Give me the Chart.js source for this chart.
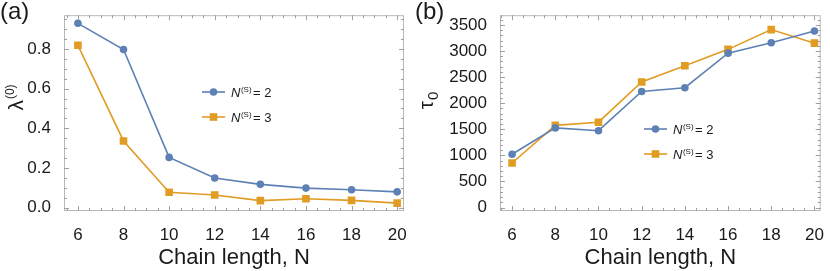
<!DOCTYPE html>
<html>
<head>
<meta charset="utf-8">
<script src="https://cdn.jsdelivr.net/npm/chart.js@4/dist/chart.umd.min.js"></script>
<style>
  html, body { margin: 0; padding: 0; background: #fff; }
  #wrap { position: relative; width: 830px; height: 271px; }
  canvas { position: absolute; top: 0; }
  #chartA { left: 0; }
  #chartB { left: 415px; }
</style>
</head>
<body>
<div id="wrap">
  <canvas id="chartA" width="415" height="271"></canvas>
  <canvas id="chartB" width="415" height="271"></canvas>
</div>
<script>
// 数据
const chainN = [6, 8, 10, 12, 14, 16, 18, 20];
const lambdaS2 = [0.930, 0.798, 0.253, 0.149, 0.117, 0.098, 0.090, 0.079];
const lambdaS3 = [0.819, 0.336, 0.077, 0.063, 0.035, 0.044, 0.036, 0.022];
const tauS2 = [1021, 1526, 1472, 2224, 2296, 2959, 3157, 3384];
const tauS3 = [853, 1575, 1635, 2405, 2717, 3031, 3410, 3150];
const xTicks = [6, 8, 10, 12, 14, 16, 18, 20];
const lambdaTicks = [0, 0.2, 0.4, 0.6, 0.8];
const tauTicks = [0, 500, 1000, 1500, 2000, 2500, 3000, 3500];
const seriesNames = ['2', '3'];

const BLUE = '#5e81b5';
const ORANGE = '#e19c24';
const FONT = "'Liberation Sans', Arial, sans-serif";

function toPoints(ys) {
    return chainN.map((n, i) => ({ x: n, y: ys[i] }));
}

// 边框和内向刻度
const framePlugin = {
    id: 'frame',
    afterDatasetsDraw(chart, args, opts) {
        const { ctx, chartArea: a, scales } = chart;
        ctx.save();
        ctx.strokeStyle = '#b8b8b8';
        ctx.lineWidth = 1;
        ctx.strokeRect(a.left + 0.5, a.top + 0.5, a.right - a.left - 1, a.bottom - a.top - 1);

        ctx.strokeStyle = '#a0a0a0';
        function marks(scale, minor, major, horiz) {
            const k0 = Math.ceil(scale.min / minor - 1e-9);
            const k1 = Math.floor(scale.max / minor + 1e-9);
            const ratio = Math.round(major / minor);
            for (let k = k0; k <= k1; k++) {
                const len = (k % ratio === 0) ? 5 : 3;
                const p = Math.round(scale.getPixelForValue(k * minor)) + 0.5;
                ctx.beginPath();
                if (horiz) {
                    ctx.moveTo(p, a.bottom); ctx.lineTo(p, a.bottom - len);
                    ctx.moveTo(p, a.top); ctx.lineTo(p, a.top + len);
                } else {
                    ctx.moveTo(a.left, p); ctx.lineTo(a.left + len, p);
                    ctx.moveTo(a.right, p); ctx.lineTo(a.right - len, p);
                }
                ctx.stroke();
            }
        }
        marks(scales.x, opts.xMinor, opts.xMajor, true);
        marks(scales.y, opts.yMinor, opts.yMajor, false);
        ctx.restore();
    },
    afterDraw(chart, args, opts) {
        const { ctx } = chart;
        ctx.save();
        ctx.fillStyle = '#1a1a1a';

        // 面板标签
        ctx.font = '24px ' + FONT;
        ctx.textBaseline = 'alphabetic';
        ctx.textAlign = 'left';
        ctx.fillText(opts.panel, opts.panelX, 19);

        // y 轴标题 (旋转)
        ctx.save();
        ctx.translate(opts.titleX, opts.titleY);
        ctx.rotate(-Math.PI / 2);
        ctx.font = '21px ' + FONT;
        const w1 = ctx.measureText(opts.yMain).width;
        ctx.font = opts.yScriptSize + 'px ' + FONT;
        const w2 = ctx.measureText(opts.yScript).width;
        const start = -(w1 + w2) / 2;
        ctx.font = '21px ' + FONT;
        ctx.fillText(opts.yMain, start, 0);
        ctx.font = opts.yScriptSize + 'px ' + FONT;
        ctx.fillText(opts.yScript, start + w1 + 1, opts.yScriptShift);
        ctx.restore();

        // 图例
        const colors = [BLUE, ORANGE];
        const styles = ['circle', 'rect'];
        opts.legendY.forEach((ly, i) => {
            const lx = opts.legendX;
            ctx.strokeStyle = colors[i];
            ctx.lineWidth = 1.6;
            ctx.beginPath();
            ctx.moveTo(lx, ly); ctx.lineTo(lx + 23, ly);
            ctx.stroke();
            ctx.fillStyle = colors[i];
            if (styles[i] === 'circle') {
                ctx.beginPath(); ctx.arc(lx + 11.5, ly, 3.8, 0, Math.PI * 2); ctx.fill();
            } else {
                ctx.fillRect(lx + 11.5 - 3.8, ly - 3.8, 7.6, 7.6);
            }
            ctx.fillStyle = '#1a1a1a';
            let tx = lx + 29;
            ctx.font = 'italic 13px ' + FONT;
            ctx.fillText('N', tx, ly + 5);
            tx += ctx.measureText('N').width + 0.5;
            ctx.font = '8px ' + FONT;
            ctx.fillText('(S)', tx, ly - 0.5);
            tx += ctx.measureText('(S)').width + 1.5;
            ctx.font = '13px ' + FONT;
            ctx.fillText('= ' + seriesNames[i], tx, ly + 5);
        });
        ctx.restore();
    }
};

function makeChart(id, s2, s3, cfg) {
    return new Chart(document.getElementById(id).getContext('2d'), {
        type: 'line',
        data: {
            datasets: [{
                label: 'N(S) = ' + seriesNames[0],
                data: toPoints(s2),
                borderColor: BLUE,
                backgroundColor: BLUE,
                borderWidth: 1.6,
                pointStyle: 'circle',
                pointRadius: 3.8,
                pointBorderWidth: 0,
                tension: 0
            }, {
                label: 'N(S) = ' + seriesNames[1],
                data: toPoints(s3),
                borderColor: ORANGE,
                backgroundColor: ORANGE,
                borderWidth: 1.6,
                pointStyle: 'rect',
                pointRadius: 5.4,
                pointBorderWidth: 0,
                tension: 0
            }]
        },
        options: {
            responsive: false,
            animation: false,
            devicePixelRatio: 1,
            layout: { padding: { top: 3, right: cfg.padRight, left: 0, bottom: 0 } },
            plugins: {
                legend: { display: false },
                tooltip: { enabled: false },
                frame: cfg.frame
            },
            scales: {
                x: {
                    type: 'linear',
                    min: cfg.xMin,
                    max: cfg.xMax,
                    grid: { display: false },
                    border: { display: false },
                    afterBuildTicks: s => { s.ticks = xTicks.map(v => ({ value: v })); },
                    afterFit: s => { s.height = 60; },
                    ticks: {
                        color: '#1a1a1a',
                        font: { family: FONT, size: 17 },
                        padding: 6,
                        maxRotation: 0,
                        autoSkip: false
                    },
                    title: {
                        display: true,
                        text: 'Chain length, N',
                        color: '#1a1a1a',
                        font: { family: FONT, size: 22 },
                        padding: { top: 0, bottom: 0 }
                    }
                },
                y: {
                    type: 'linear',
                    min: cfg.yMin,
                    max: cfg.yMax,
                    grid: { display: false },
                    border: { display: false },
                    afterBuildTicks: s => { s.ticks = cfg.yTicks.map(v => ({ value: v })); },
                    afterFit: s => { s.width = cfg.yWidth; },
                    ticks: {
                        color: '#1a1a1a',
                        font: { family: FONT, size: 17 },
                        padding: 5,
                        autoSkip: false,
                        callback: cfg.yFormat
                    }
                }
            }
        },
        plugins: [framePlugin]
    });
}

makeChart('chartA', lambdaS2, lambdaS3, {
    padRight: 11,
    yWidth: 64,
    xMin: 5.39, xMax: 20.3,
    yMin: -0.0176, yMax: 0.971,
    yTicks: lambdaTicks,
    yFormat: v => v.toFixed(1),
    frame: {
        xMinor: 0.5, xMajor: 2, yMinor: 0.05, yMajor: 0.2,
        panel: '(a)', panelX: 0,
        titleX: 23, titleY: 98,
        yMain: 'λ', yScript: '(0)', yScriptSize: 12, yScriptShift: -9,
        legendX: 202, legendY: [92, 117]
    }
});

makeChart('chartB', tauS2, tauS3, {
    padRight: 3,
    yWidth: 85,
    xMin: 5.44, xMax: 20.29,
    yMin: -67, yMax: 3686,
    yTicks: tauTicks,
    yFormat: v => String(v),
    frame: {
        xMinor: 0.5, xMajor: 2, yMinor: 100, yMajor: 500,
        panel: '(b)', panelX: 0,
        titleX: 18, titleY: 101,
        yMain: 'τ', yScript: '0', yScriptSize: 15, yScriptShift: 5,
        legendX: 229, legendY: [129, 154]
    }
});
</script>
</body>
</html>
